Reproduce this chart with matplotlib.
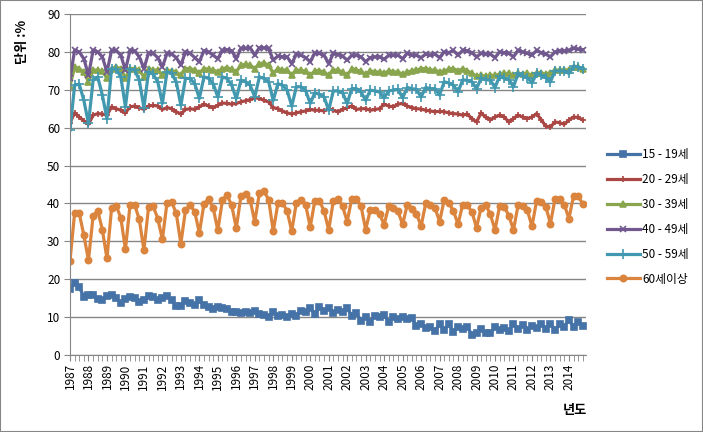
import numpy as np
import matplotlib.pyplot as plt
from matplotlib.patches import Rectangle

plt.rcParams['font.family'] = ['Noto Sans CJK KR', 'DejaVu Sans']

# 분기별 데이터 (1987 1분기 ~ 2014 4분기)
years = [str(y) for y in range(1987, 2015)]

y_15_19 = [17.4, 19.1, 17.9, 15.4, 15.9, 15.9, 14.7, 14.5, 15.7, 15.9, 15.0, 13.6,
           14.9, 15.2, 15.0, 14.0, 14.5, 15.6, 15.2, 14.4, 15.1, 15.6, 14.5, 12.9,
           12.9, 14.2, 13.8, 13.3, 14.5, 13.2, 12.8, 12.1, 12.6, 12.4, 12.1, 11.3,
           11.4, 11.0, 11.3, 11.0, 11.7, 10.8, 10.6, 9.9, 11.4, 10.3, 10.6, 10.1,
           10.8, 10.4, 11.7, 11.4, 12.5, 10.8, 12.6, 11.7, 12.3, 11.2, 11.9, 11.3,
           12.3, 10.4, 11.0, 9.1, 10.1, 8.8, 10.3, 10.1, 10.6, 8.6, 10.1, 9.4,
           10.1, 9.6, 9.7, 7.7, 8.3, 7.0, 7.5, 6.3, 8.2, 6.6, 8.1, 6.1,
           7.3, 6.8, 7.5, 5.3, 5.9, 6.8, 5.7, 5.7, 7.3, 6.6, 7.2, 6.4,
           8.3, 6.8, 8.0, 6.6, 7.7, 7.0, 8.3, 6.8, 8.3, 6.6, 8.1, 7.5,
           9.2, 7.5, 8.8, 7.6]

y_20_29 = [61.3, 63.9, 62.8, 61.8, 60.9, 63.3, 63.7, 63.6, 63.3, 65.5, 65.0, 64.6,
           63.9, 65.5, 65.7, 65.3, 64.8, 65.7, 65.9, 65.7, 64.8, 65.3, 65.0, 64.2,
           63.6, 64.8, 65.0, 64.8, 65.5, 66.2, 65.7, 65.3, 65.9, 66.5, 66.4, 66.2,
           66.4, 66.8, 67.1, 67.4, 67.9, 67.7, 67.2, 66.8, 65.3, 65.0, 64.4, 63.9,
           63.6, 63.9, 64.2, 64.4, 64.8, 64.6, 64.6, 64.4, 65.0, 64.6, 64.2, 64.8,
           65.3, 65.7, 64.8, 65.0, 65.0, 64.6, 64.8, 65.0, 66.2, 65.7, 65.5, 66.2,
           66.4, 65.7, 65.3, 65.0, 64.9, 64.6, 64.4, 64.2, 64.3, 64.2, 63.9, 63.7,
           63.6, 63.3, 63.6, 62.4, 61.5, 63.9, 62.7, 62.1, 62.8, 63.3, 62.8, 61.5,
           62.4, 63.3, 62.8, 62.4, 62.8, 63.7, 62.1, 60.4, 60.2, 61.5, 61.3, 60.9,
           62.0, 62.8, 62.7, 62.0]

y_30_39 = [71.0, 76.0, 75.6, 74.7, 72.1, 75.2, 75.2, 74.9, 73.0, 75.6, 76.0, 75.6,
           73.0, 75.6, 75.6, 75.2, 73.4, 75.6, 75.2, 75.2, 73.8, 75.2, 74.9, 74.7,
           73.8, 75.6, 75.6, 75.2, 74.5, 75.6, 75.4, 75.2, 74.7, 75.6, 75.8, 75.4,
           74.7, 76.5, 76.7, 76.5, 75.6, 76.9, 77.1, 76.5, 74.3, 75.6, 75.2, 75.2,
           73.8, 75.2, 75.1, 74.9, 73.8, 75.0, 75.0, 74.7, 73.8, 75.2, 75.2, 74.7,
           73.8, 75.6, 75.2, 74.9, 74.1, 75.0, 74.7, 74.7, 74.3, 75.0, 74.7, 74.7,
           74.1, 74.7, 75.0, 75.2, 75.6, 75.6, 75.2, 75.2, 74.7, 75.0, 75.4, 75.6,
           75.0, 75.6, 75.0, 74.3, 73.6, 73.8, 73.6, 73.8, 73.8, 74.1, 74.3, 74.3,
           73.8, 74.3, 74.1, 74.3, 73.8, 74.5, 74.5, 74.1, 74.5, 75.2, 75.2, 75.3,
           75.2, 76.0, 76.0, 75.6]

y_40_49 = [73.0, 80.4, 80.0, 78.2, 73.8, 80.4, 80.0, 78.7, 74.7, 80.4, 80.4, 79.1,
           75.2, 80.4, 80.3, 78.7, 75.6, 79.7, 79.6, 78.5, 76.0, 79.6, 79.4, 78.5,
           76.5, 80.0, 79.6, 78.5, 77.4, 80.3, 80.0, 79.1, 78.2, 80.4, 80.6, 80.3,
           78.2, 80.9, 80.9, 81.1, 79.1, 81.1, 81.1, 80.9, 77.8, 78.9, 78.7, 78.7,
           76.9, 79.4, 79.1, 78.5, 77.4, 79.7, 79.6, 79.1, 76.9, 79.6, 79.3, 78.9,
           77.8, 79.1, 79.1, 78.7, 77.4, 78.5, 78.7, 78.7, 78.0, 79.1, 79.1, 79.1,
           78.2, 79.6, 79.1, 79.1, 78.5, 79.4, 79.1, 79.4, 78.5, 80.0, 79.8, 80.4,
           79.1, 80.4, 80.3, 79.8, 78.7, 79.6, 79.4, 79.4, 78.5, 80.0, 79.8, 79.6,
           78.7, 80.4, 80.0, 79.6, 79.1, 80.4, 79.8, 79.4, 78.7, 80.0, 80.3, 80.3,
           80.4, 80.9, 80.7, 80.6]

y_50_59 = [59.3, 71.2, 71.5, 67.2, 61.1, 72.5, 73.4, 68.6, 62.4, 75.6, 75.4, 73.4,
           65.5, 75.4, 75.2, 72.5, 65.3, 74.7, 74.1, 72.1, 66.4, 74.7, 74.3, 72.1,
           65.9, 73.0, 73.0, 71.6, 67.7, 73.4, 73.0, 71.6, 68.1, 73.4, 73.0, 71.2,
           67.7, 72.5, 72.1, 71.2, 68.1, 73.4, 73.0, 72.1, 67.2, 71.6, 71.2, 69.9,
           65.7, 70.8, 70.8, 69.8, 66.4, 69.2, 68.8, 68.1, 64.6, 69.7, 69.7, 69.2,
           66.4, 70.3, 70.3, 69.4, 67.2, 69.9, 69.7, 69.4, 67.9, 69.7, 69.9, 70.1,
           67.9, 70.6, 70.3, 70.1, 68.1, 70.6, 70.3, 70.3, 68.6, 72.1, 71.8, 71.2,
           69.4, 72.6, 72.5, 72.1, 70.3, 73.0, 72.7, 72.5, 70.6, 73.6, 73.0, 72.7,
           70.8, 74.3, 73.6, 73.2, 71.8, 74.3, 73.8, 73.2, 72.1, 75.0, 75.0, 75.0,
           74.3, 76.2, 76.0, 75.6]

y_60 = [24.8, 37.5, 37.4, 31.6, 25.0, 36.7, 38.1, 33.1, 25.5, 38.7, 39.4, 36.2,
        27.9, 39.6, 39.6, 35.8, 27.7, 39.0, 39.3, 36.0, 30.5, 40.2, 40.4, 37.4,
        29.4, 38.2, 39.6, 37.8, 32.2, 39.9, 41.1, 38.8, 32.9, 40.9, 42.2, 39.5,
        33.5, 41.9, 42.5, 40.9, 35.1, 42.8, 43.2, 41.0, 32.7, 40.0, 40.2, 38.0,
        32.7, 40.2, 40.9, 39.7, 33.8, 40.7, 40.7, 38.0, 33.0, 40.6, 41.2, 39.3,
        35.2, 41.3, 41.2, 39.3, 33.1, 38.2, 38.4, 37.3, 34.4, 39.3, 38.8, 37.9,
        34.5, 39.6, 38.6, 37.3, 34.0, 40.0, 39.5, 38.9, 35.2, 40.9, 40.2, 38.0,
        34.5, 39.7, 39.5, 37.8, 33.6, 38.9, 39.6, 37.1, 33.0, 39.3, 39.1, 36.8,
        33.0, 39.5, 39.3, 38.2, 34.0, 40.6, 40.4, 39.1, 34.7, 41.2, 41.1, 39.7,
        36.0, 41.9, 41.9, 39.9]

labels = ['15 - 19세', '20 - 29세', '30 - 39세', '40 - 49세', '50 - 59세', '60세이상']
series = [y_15_19, y_20_29, y_30_39, y_40_49, y_50_59, y_60]
colors = ['#4572A7', '#AA4643', '#89A54E', '#71588F', '#4198AF', '#DB843D']
markers = ['s', '+', '^', 'x', '+', 'o']
msizes = [5, 5, 5, 5, 7, 4.5]

fig = plt.figure(figsize=(7.03, 4.32), dpi=100)
ax = fig.add_axes([70 / 703, 77 / 432, 516 / 703, 341 / 432])

x = np.arange(len(y_60))
for ys, lab, c, m, ms in zip(series, labels, colors, markers, msizes):
    ax.plot(x, ys, color=c, lw=2.3, marker=m, markersize=ms,
            markeredgewidth=1.2, markerfacecolor=c, markeredgecolor=c, label=lab)

ax.set_ylim(0, 90)
ax.set_xlim(0, 111.7)
ax.set_yticks(range(0, 91, 10))
ax.yaxis.grid(True, color='#868686', lw=1)
ax.set_axisbelow(True)

ax.set_xticks(np.arange(0, 112, 4))
ax.set_xticklabels(years, rotation=90, fontsize=8.5)
ax.set_xticks(np.arange(0, 112, 1), minor=True)
ax.tick_params(axis='x', which='both', length=4, color='#868686', pad=2)
ax.tick_params(axis='y', length=4, color='#868686', labelsize=8.5, pad=3)

for s in ['top', 'right']:
    ax.spines[s].set_visible(False)
for s in ['left', 'bottom']:
    ax.spines[s].set_color('#868686')

fig.text(22 / 703, 1 - 42 / 432, '단위 :%', rotation=90, ha='center', va='center',
         fontsize=9.5, fontweight='bold')
fig.text(575 / 703, 1 - 410 / 432, '년도', ha='center', va='center',
         fontsize=9.5, fontweight='bold')

fig.legend(loc='center left', bbox_to_anchor=(596 / 703, 1 - 217 / 432),
           frameon=False, fontsize=8.5, handlelength=2.8, labelspacing=1.0,
           handletextpad=0.2)

fig.patches.append(Rectangle((0, 0), 1, 1, transform=fig.transFigure, fill=False,
                             edgecolor='#868686', lw=1.5))

fig.savefig('out.png', dpi=100)
